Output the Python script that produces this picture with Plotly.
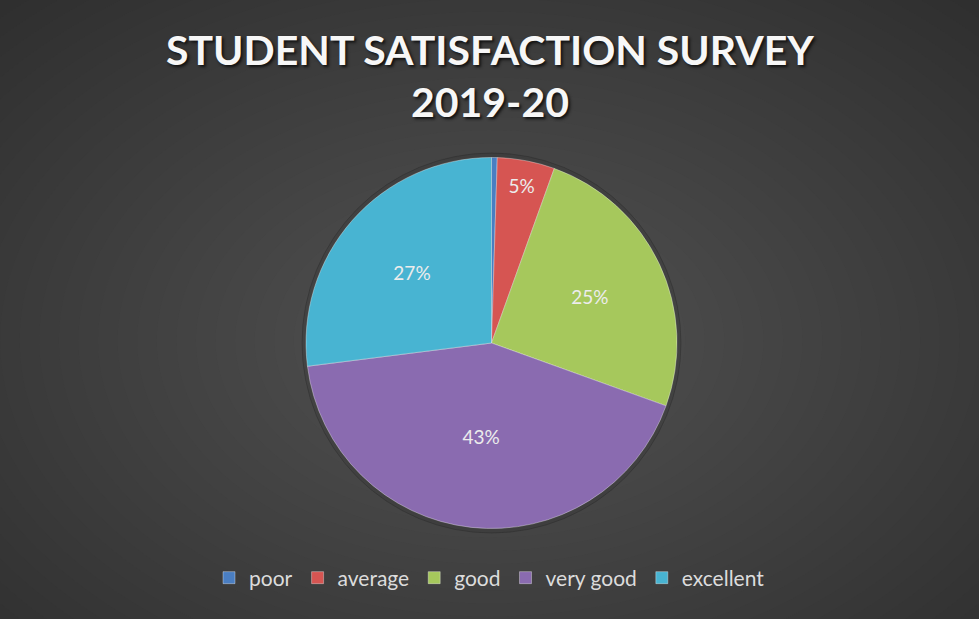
import plotly.graph_objects as go

categories = ["poor", "average", "good", "very good", "excellent"]
values = [1, 10, 50, 85, 54]
colors = ["#4A7EC2", "#D65552", "#A6C85C", "#8A6BB0", "#48B4D2"]
label_texts = ["", "5%", "25%", "43%", "27%"]
title_lines = ["STUDENT SATISFACTION SURVEY", "2019-20"]

W, H = 979, 619
fig = go.Figure()

fig.add_trace(go.Pie(
    labels=categories,
    values=values,
    sort=False,
    direction="clockwise",
    rotation=0,
    text=label_texts,
    textinfo="text",
    textposition="inside",
    insidetextorientation="horizontal",
    textfont=dict(family="Lato, Open Sans, sans-serif", size=19, color="#ececec"),
    marker=dict(colors=colors, line=dict(color="rgba(255,255,255,0.35)", width=1)),
    domain=dict(x=[306/W, 677/W], y=[1-529/H, 1-157/H]),
    hoverinfo="label+percent",
))

# radial-ish background gradient via stacked translucent ellipses
shapes = []
n = 40
for i in range(n):
    f = 1 - i / n
    rx = 0.8 * f
    ry = 0.85 * f
    shapes.append(dict(
        type="circle", xref="paper", yref="paper",
        x0=0.5 - rx, x1=0.5 + rx, y0=0.45 - ry, y1=0.45 + ry,
        fillcolor="rgba(110,110,110,0.028)", line=dict(width=0), layer="below",
    ))
# subtle dark halo around pie
shapes.append(dict(
    type="circle", xref="paper", yref="paper",
    x0=302/W, x1=681/W, y0=1-533/H, y1=1-153/H,
    fillcolor="rgba(25,25,25,0.12)", line=dict(color="rgba(25,25,25,0.25)", width=1), layer="below",
))

annotations = [
    dict(text=title_lines[0], x=0.5, y=1-50/H, xref="paper", yref="paper",
         xanchor="center", yanchor="middle", showarrow=False,
         font=dict(family="Lato, Open Sans, sans-serif", size=41, color="#f7f7f7",
                   weight="bold", shadow="2px 2px 3px #111111")),
    dict(text=title_lines[1], x=0.5, y=1-101/H, xref="paper", yref="paper",
         xanchor="center", yanchor="middle", showarrow=False,
         font=dict(family="Lato, Open Sans, sans-serif", size=41, color="#f7f7f7",
                   weight="bold", shadow="2px 2px 3px #111111")),
]

fig.update_layout(
    width=W, height=H,
    margin=dict(l=0, r=0, t=0, b=0),
    paper_bgcolor="#2a2a2a",
    plot_bgcolor="#2a2a2a",
    shapes=shapes,
    annotations=annotations,
    showlegend=True,
    legend=dict(
        orientation="h", x=0.5, xanchor="center", y=1 - 578/H, yanchor="middle",
        font=dict(family="Lato, Open Sans, sans-serif", size=21, color="#dcdcdc"),
        bgcolor="rgba(0,0,0,0)", itemwidth=30,
    ),
)

fig.write_html("out.html", config={"displayModeBar": False},
               post_script="document.body.style.margin='0';document.body.style.overflow='hidden';")
